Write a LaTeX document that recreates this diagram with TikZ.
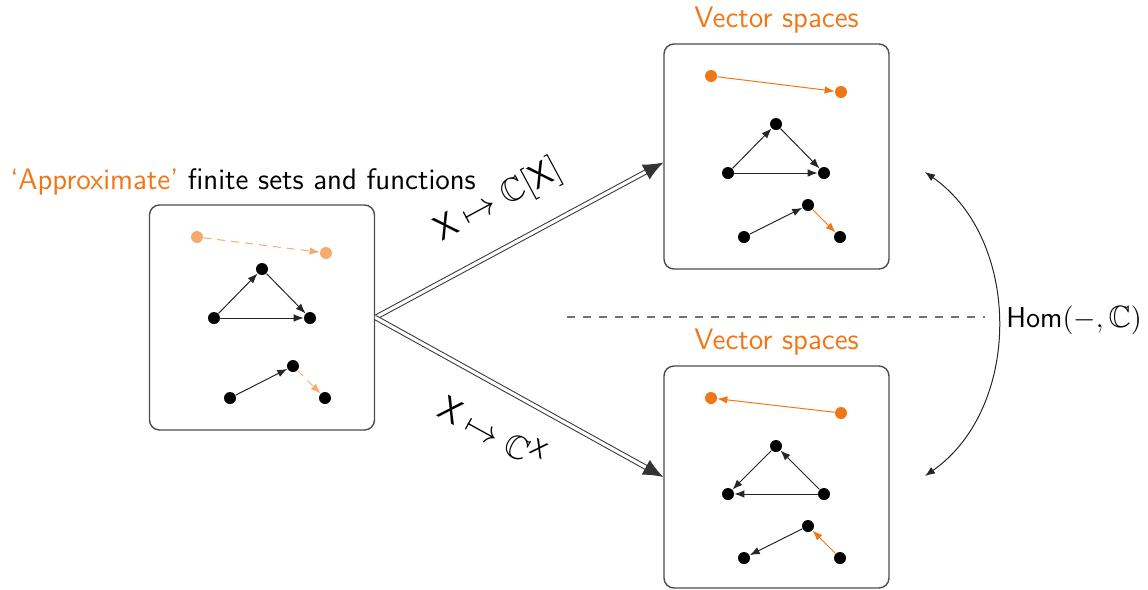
\documentclass[tikz,border=0pt]{standalone}
\usepackage{amssymb}
\usetikzlibrary{arrows.meta}
\renewcommand{\familydefault}{\sfdefault}
\definecolor{myorange}{RGB}{242,118,22}
\definecolor{lightorange}{RGB}{246,170,112}
\begin{document}
\begin{tikzpicture}[x=0.5pt,y=-0.5pt, font=\fontsize{14.8}{18}\selectfont,
 box/.style={draw=black!70, line width=0.7pt, rounded corners=5pt, minimum width=112.5pt, minimum height=112.5pt, inner sep=0pt},
 dot/.style={circle, fill=black, inner sep=0pt, minimum size=6pt},
 odot/.style={dot, fill=myorange},
 lodot/.style={dot, fill=lightorange},
 edgearr/.style={draw=black!85, line width=0.5pt, -{Latex[length=5pt,width=3.8pt]}},
 oarr/.style={edgearr, draw=myorange},
 loarr/.style={edgearr, draw=lightorange, dash pattern=on 4pt off 3pt},
 dblarr/.style={draw=black!80, line width=0.5pt, double=white, double distance=1.6pt, -{Latex[length=10pt,width=8.5pt]}},
 lbl/.style={sloped, font=\fontsize{16.5}{20}\selectfont}
]
\useasboundingbox (0,0) rectangle (1148,590);

% boxes
\node[box] (L) at (262,317.5) {};
\node[box] (TR) at (776.5,156.5) {};
\node[box, minimum height=111pt] (BR) at (776.5,477) {};

% titles
\node[anchor=west, inner sep=0pt] (t0) at (10,182) {\textcolor{myorange}{`Approximate'} finite sets and functions};
\node[text=myorange, inner sep=0pt] (t1) at (776.5,20) {Vector spaces};
\node[text=myorange, inner sep=0pt] (t2) at (776.5,342) {Vector spaces};

% left box contents
\node[lodot] (la) at (197,237) {};
\node[lodot] (lb) at (326,253) {};
\node[dot] (l1) at (214,318) {};
\node[dot] (l2) at (262,269) {};
\node[dot] (l3) at (310,318) {};
\node[dot] (l4) at (230,398) {};
\node[dot] (l5) at (293,366) {};
\node[dot] (l6) at (325,398) {};
\draw[loarr] (la) -- (lb);
\draw[edgearr] (l1) -- (l2);
\draw[edgearr] (l2) -- (l3);
\draw[edgearr] (l1) -- (l3);
\draw[edgearr] (l4) -- (l5);
\draw[loarr] (l5) -- (l6);

% top right contents
\node[odot] (ta) at (711,76) {};
\node[odot] (tb) at (841,92) {};
\node[dot] (t1a) at (728,173) {};
\node[dot] (t2a) at (776,124) {};
\node[dot] (t3a) at (824,173) {};
\node[dot] (t4a) at (744,237) {};
\node[dot] (t5a) at (808,205) {};
\node[dot] (t6a) at (840,237) {};
\draw[oarr] (ta) -- (tb);
\draw[edgearr] (t1a) -- (t2a);
\draw[edgearr] (t2a) -- (t3a);
\draw[edgearr] (t1a) -- (t3a);
\draw[edgearr] (t4a) -- (t5a);
\draw[oarr] (t5a) -- (t6a);

% bottom right contents
\node[odot] (ba) at (711,398) {};
\node[odot] (bb) at (841,413) {};
\node[dot] (b1) at (728,494) {};
\node[dot] (b2) at (776,446) {};
\node[dot] (b3) at (824,494) {};
\node[dot] (b4) at (744,558) {};
\node[dot] (b5) at (808,526) {};
\node[dot] (b6) at (840,558) {};
\draw[oarr] (bb) -- (ba);
\draw[edgearr] (b2) -- (b1);
\draw[edgearr] (b3) -- (b2);
\draw[edgearr] (b3) -- (b1);
\draw[edgearr] (b5) -- (b4);
\draw[oarr] (b6) -- (b5);

% functor arrows
\draw[dblarr] (L.east) -- node[lbl, above=10pt, pos=0.5] {$\mathsf{X}\mapsto\mathbb{C}[\mathsf{X}]$} ([yshift=-3pt]TR.west);
\draw[dblarr] (L.east) -- node[lbl, below=10pt, pos=0.48] {$\mathsf{X}\mapsto\mathbb{C}^{\mathsf{X}}$} (BR.west);

% dashed separator
\coordinate (d1) at (567,317);
\coordinate (d2) at (985,317);
\draw[black!55, line width=1pt, dash pattern=on 4pt off 4pt] (d1) -- (d2);

% Hom arc
\coordinate (h1) at (925,172);
\coordinate (h2) at (925,476);
\draw[black!85, line width=0.5pt, {Latex[length=5pt,width=3.8pt]}-{Latex[length=5pt,width=3.8pt]}] (h1) to[bend left=55] (h2);
\node[anchor=west, inner sep=0pt, font=\fontsize{15.4}{18}\selectfont] (hom) at (1006,320) {$\mathsf{Hom}(-,\mathbb{C})$};
\end{tikzpicture}
\end{document}
